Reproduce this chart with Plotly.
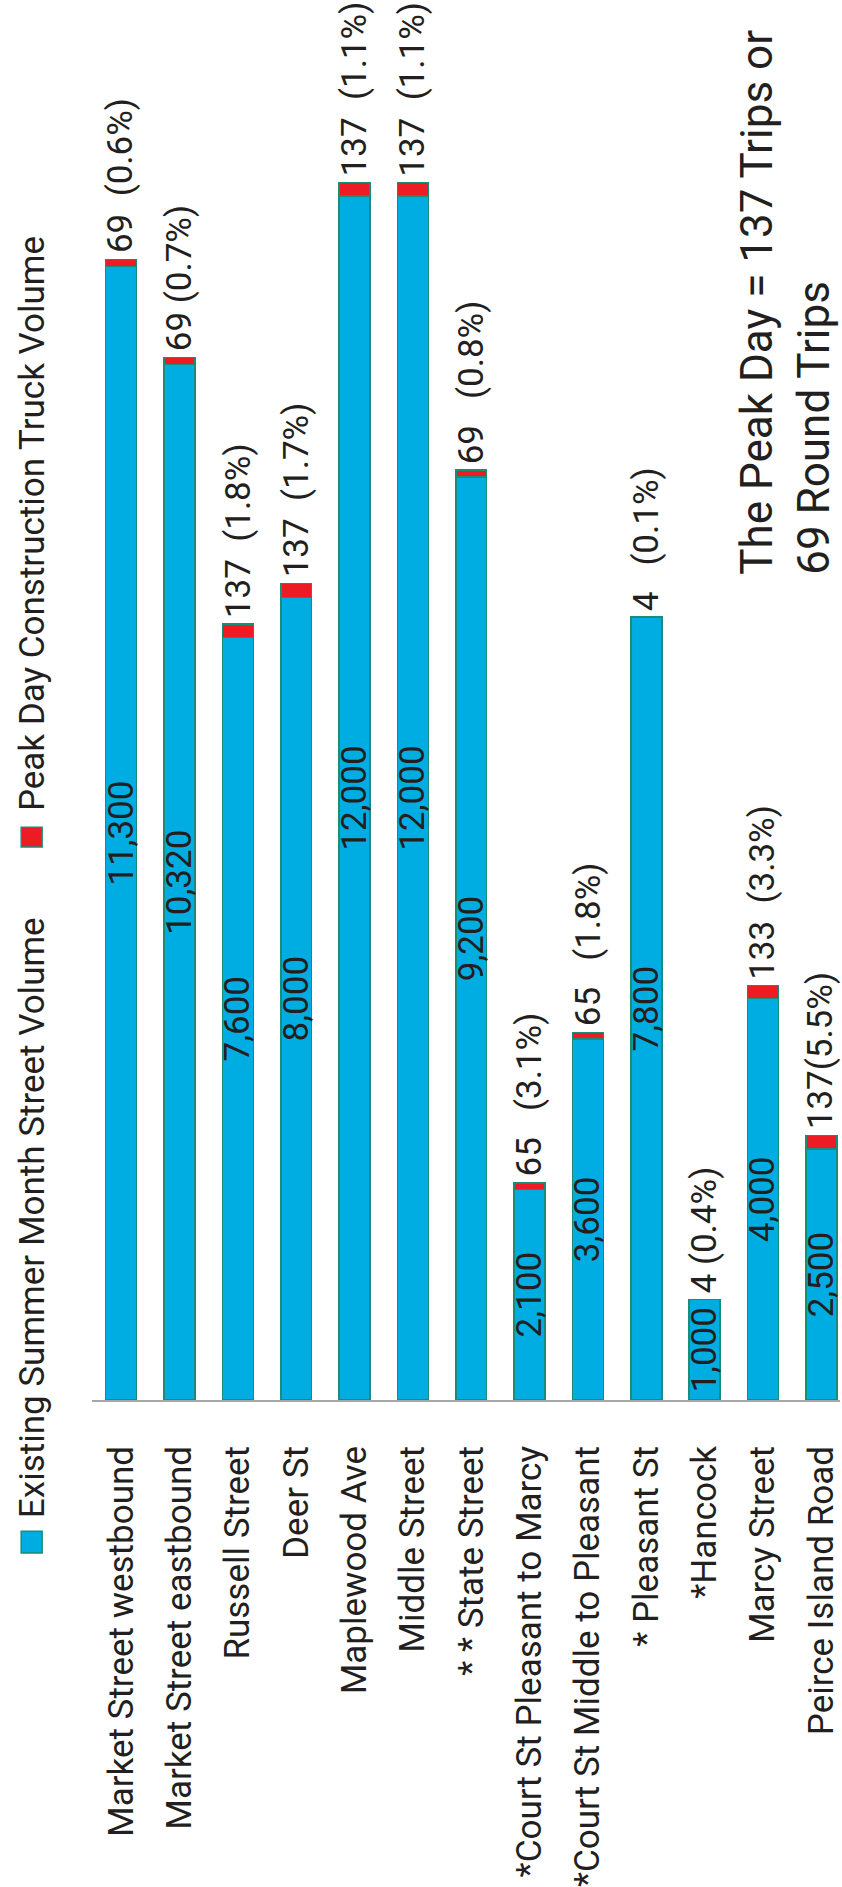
import plotly.graph_objects as go

categories = ["Market Street westbound", "Market Street eastbound", "Russell Street", "Deer St",
              "Maplewood Ave", "Middle Street", "* * State Street", "*Court St Pleasant to Marcy",
              "*Court St Middle to Pleasant", "* Pleasant St", "*Hancock", "Marcy Street",
              "Peirce Island Road"]
street_volume = [11300, 10320, 7600, 8000, 12000, 12000, 9200, 2100, 3600, 7800, 1000, 4000, 2500]
truck_volume = [69, 69, 137, 137, 137, 137, 69, 65, 65, 4, 4, 133, 137]
volume_labels = ["11,300", "10,320", "7,600", "8,000", "12,000", "12,000", "9,200", "2,100",
                 "3,600", "7,800", "1,000", "4,000", "2,500"]
truck_labels = ["69\u00a0\u00a0(0.6%)", "69 (0.7%)", "137\u00a0\u00a0(1.8%)", "137\u00a0\u00a0(1.7%)",
                "137\u00a0\u00a0(1.1%)", "137\u00a0\u00a0(1.1%)", "69\u00a0\u00a0\u00a0(0.8%)",
                "65\u00a0\u00a0\u00a0(3.1%)", "65\u00a0\u00a0\u00a0(1.8%)", "4\u00a0\u00a0\u00a0(0.1%)",
                "4 (0.4%)", "133\u00a0\u00a0(3.3%)", "137(5.5%)"]

BLUE = "#00ADE2"
RED = "#ED1C24"
EDGE = "#1A8C78"
TXT = "#231F20"
FONT = "Roboto"
FS = 35
W = 400

fig = go.Figure()
fig.add_trace(go.Bar(
    x=categories, y=street_volume, name="Existing Summer Month Street Volume",
    marker=dict(color=BLUE, line=dict(color=EDGE, width=1.5)),
    text=volume_labels, textposition="inside", insidetextanchor="middle",
    textangle=-90, constraintext="none",
    insidetextfont=dict(family=FONT, size=FS, color=TXT, weight=W),
    showlegend=False,
))
fig.add_trace(go.Bar(
    x=categories, y=truck_volume, name="Peak Day Construction Truck Volume",
    marker=dict(color=RED, line=dict(color=EDGE, width=1.5)),
    showlegend=False,
))

for c, v, t, lab in zip(categories, street_volume, truck_volume, truck_labels):
    fig.add_annotation(x=c, y=v + t, xref="x", yref="y", text=lab, showarrow=False,
                       textangle=-90, xanchor="center", yanchor="bottom", yshift=4,
                       font=dict(family=FONT, size=FS, color=TXT, weight=W))

# Legend (rotated like the chart)
L, R, T, B = 92, 842, 60, 1417
def px(xp):
    return (xp - L) / (R - L)
def py(yp):
    return (B - yp) / (B - T)

fig.add_shape(type="rect", xref="paper", yref="paper", x0=px(21), x1=px(42), y0=py(1572), y1=py(1550),
              fillcolor=BLUE, line=dict(color=EDGE, width=1.5))
fig.add_shape(type="rect", xref="paper", yref="paper", x0=px(21), x1=px(42), y0=py(857), y1=py(837),
              fillcolor=RED, line=dict(color=EDGE, width=1.5))
fig.add_annotation(xref="paper", yref="paper", x=px(33), y=py(1539), text="Existing Summer Month Street Volume",
                   showarrow=False, textangle=-90, xanchor="center", yanchor="bottom",
                   font=dict(family=FONT, size=FS, color=TXT, weight=W))
fig.add_annotation(xref="paper", yref="paper", x=px(33), y=py(823), text="Peak Day Construction Truck Volume",
                   showarrow=False, textangle=-90, xanchor="center", yanchor="bottom",
                   font=dict(family=FONT, size=FS, color=TXT, weight=W))

fig.add_annotation(xref="paper", yref="paper", x=px(731), y=py(583),
                   text="The Peak Day = 137 Trips or<br>69 Round Trips", align="left",
                   showarrow=False, textangle=-90, xanchor="left", yanchor="bottom",
                   font=dict(family=FONT, size=44, color=TXT, weight=W))

fig.update_layout(
    width=842, height=1887,
    margin=dict(l=L, r=842 - R, t=T, b=1887 - B, pad=0),
    barmode="stack", bargap=0.47,
    paper_bgcolor="white", plot_bgcolor="white",
    xaxis=dict(range=[-0.5, 12.32], showline=True, linecolor="#A6A6A6", linewidth=2,
               showgrid=False, zeroline=False, ticks="", tickangle=-90,
               ticklabelstandoff=30,
               tickfont=dict(family=FONT, size=FS, color=TXT, weight=W), fixedrange=True),
    yaxis=dict(range=[0, (B - T) / 0.1016], visible=False, fixedrange=True),
)

fig.write_html("out.html", config={"displayModeBar": False},
               post_script="document.body.style.margin='0';document.body.style.overflow='hidden';")
